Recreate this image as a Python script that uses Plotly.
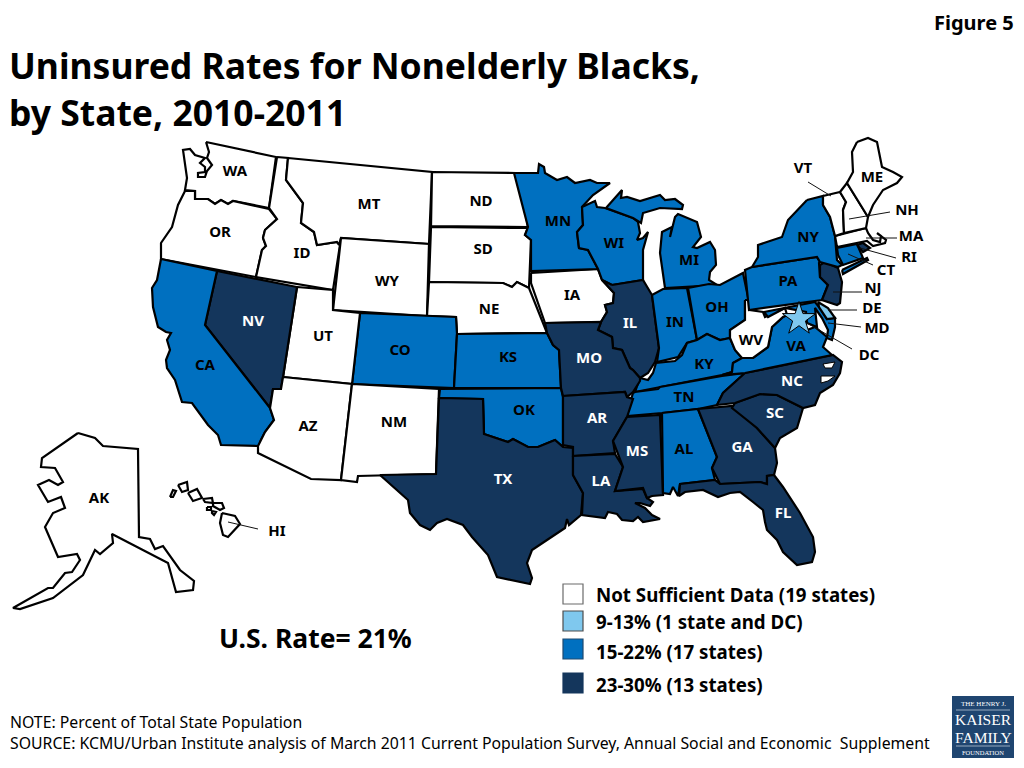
import plotly.graph_objects as go

BANDS = ["Not Sufficient Data (19 states)", "9-13% (1 state and DC)", "15-22% (17 states)", "23-30% (13 states)"]
BAND_COLORS = ["#ffffff", "#7fc8ee", "#0070c0", "#14365c"]
BAND_EDGES = ["#6b6b6b", "#4d4d4d", "#1f4a70", "#14365c"]
NO_DATA = ["WA","OR","ID","MT","WY","ND","SD","NE","IA","UT","AZ","NM","WV","VT","NH","ME","MA","AK","HI"]
BAND_LOW = ["DE"]
BAND_MID = ["CA","CO","KS","OK","MN","WI","MI","IN","OH","KY","TN","AL","VA","MD","PA","NY","CT"]
BAND_HIGH = ["NV","TX","MO","AR","LA","IL","MS","GA","FL","SC","NC","NJ","RI"]

# State outlines (map units = reference pixels)
OUTLINES = {
"WA":[(206,142),(276,157),(269,208),(233,201),(228,204),(221,200),(215,204),(208,199),(195,199),(195,191),(185,190),(187,178),(183,150),(190,149),(195,155),(205,158),(200,163),(205,167),(205,172),(198,173),(198,177),(205,177),(207,171),(212,165),(207,158),(209,152)],
"OR":[(185,191),(195,191),(195,199),(208,199),(215,204),(221,200),(228,204),(233,201),(269,209),(277,219),(265,230),(263,238),(266,246),(262,250),(256,277),(161,259),(161,243),(172,227),(178,205)],
"ID":[(277,157),(288,158),(286,180),(303,203),(301,223),(314,232),(317,245),(337,242),(340,245),(333,290),(256,277),(262,250),(266,246),(263,238),(265,230),(277,219),(269,208)],
"MT":[(288,158),(432,172),(429,244),(341,238),(339,245),(337,242),(317,245),(314,232),(301,223),(303,203),(286,180)],
"WY":[(341,238),(429,244),(427,316),(333,310)],
"ND":[(432,172),(515,173),(523,198),(528,227),(431,226)],
"SD":[(431,227),(528,228),(525,235),(531,240),(529,288),(517,282),(512,287),(503,283),(429,282)],
"NE":[(429,282),(503,283),(512,287),(517,282),(529,288),(547,333),(457,334),(456,317),(427,316)],
"CO":[(360,313),(456,317),(457,334),(454,388),(352,384)],
"UT":[(297,287),(333,290),(333,310),(360,313),(352,384),(283,377)],
"NV":[(217,271),(297,287),(283,377),(281,389),(273,389),(270,408),(205,325)],
"CA":[(161,259),(217,271),(205,325),(270,408),(274,420),(265,432),(261,440),(259,446),(221,445),(218,435),(208,425),(195,408),(192,403),(182,402),(175,380),(167,368),(166,360),(170,350),(167,340),(171,333),(166,332),(158,327),(153,307),(152,288),(157,280)],
"AZ":[(283,377),(352,384),(341,480),(311,479),(258,453),(258,446),(261,440),(265,432),(274,420),(270,408),(273,389),(281,389)],
"NM":[(352,384),(439,389),(436,474),(380,475),(358,476),(357,482),(341,480)],
"KS":[(457,334),(547,333),(553,345),(559,350),(561,388),(454,388)],
"OK":[(440,389),(561,388),(563,397),(563,447),(555,440),(538,447),(528,447),(513,439),(508,442),(484,434),(483,399),(439,398)],
"TX":[(439,398),(483,399),(484,434),(508,442),(513,439),(528,447),(538,447),(555,440),(563,447),(573,448),(573,475),(583,493),(581,515),(569,525),(567,519),(565,528),(547,540),(532,550),(527,563),(532,578),(530,584),(497,577),(488,555),(472,537),(463,525),(447,519),(437,523),(430,530),(420,525),(410,513),(408,500),(380,475),(436,474)],
"IA":[(531,273),(598,269),(602,280),(614,293),(613,303),(605,305),(607,312),(601,322),(545,323),(531,283)],
"MN":[(514,173),(538,173),(539,164),(544,167),(545,173),(557,180),(567,177),(575,183),(590,180),(597,183),(610,183),(593,195),(582,207),(583,225),(577,232),(579,248),(588,250),(598,269),(531,271),(531,240),(525,235),(528,227)],
"WI":[(582,207),(586,205),(595,201),(597,207),(605,208),(633,218),(638,222),(640,233),(637,240),(643,238),(648,232),(643,250),(643,280),(612,285),(602,280),(598,269),(588,250),(579,248),(577,232),(583,225)],
"MI":[(606,208),(622,190),(621,198),(627,197),(640,201),(660,195),(665,200),(675,199),(683,205),(682,209),(660,208),(643,213),(641,223),(633,218),None,(665,288),(660,253),(662,232),(672,227),(670,237),(675,217),(678,214),(697,222),(701,237),(693,247),(697,248),(710,242),(715,250),(716,265),(710,272),(709,280),(717,285)],
"IL":[(612,285),(643,280),(652,295),(659,348),(655,362),(648,373),(640,378),(633,370),(630,368),(622,350),(613,348),(612,337),(598,330),(601,322),(607,312),(605,305),(613,303),(614,293),(602,280)],
"IN":[(652,295),(663,289),(687,288),(697,340),(687,343),(678,357),(657,362),(659,348)],
"OH":[(688,288),(709,284),(720,285),(743,273),(749,302),(745,302),(745,320),(730,330),(730,338),(720,340),(707,334),(697,340)],
"KY":[(635,392),(640,378),(648,380),(653,373),(656,363),(675,361),(682,355),(687,343),(697,340),(707,334),(720,340),(730,338),(735,350),(742,358),(733,363),(732,372),(722,375),(658,387)],
"TN":[(635,392),(658,389),(660,387),(722,376),(745,373),(735,382),(723,393),(717,405),(698,409),(662,413),(627,416),(630,403),(633,393)],
"MO":[(545,323),(601,322),(598,330),(612,337),(613,348),(622,350),(630,368),(633,370),(640,378),(640,381),(633,392),(627,397),(625,392),(563,396),(561,388),(559,350),(553,345),(547,333)],
"AR":[(563,396),(625,392),(627,397),(633,399),(627,417),(613,441),(615,453),(573,456),(573,447),(563,445)],
"LA":[(573,456),(615,454),(623,467),(615,491),(643,489),(647,498),(653,502),(650,506),(640,503),(635,503),(645,508),(652,515),(660,519),(643,522),(638,517),(633,521),(622,520),(617,514),(608,512),(605,518),(582,515),(583,493),(573,475)],
"MS":[(627,417),(660,415),(663,495),(652,496),(647,498),(643,488),(615,491),(623,467),(613,441)],
"AL":[(662,413),(698,409),(717,457),(712,468),(715,480),(680,484),(678,496),(673,487),(670,494),(663,493)],
"GA":[(698,409),(732,406),(757,428),(775,448),(777,463),(774,475),(767,476),(767,484),(760,482),(720,484),(712,468),(717,457)],
"FL":[(680,484),(715,480),(720,484),(760,482),(767,484),(767,476),(774,475),(783,487),(800,513),(813,537),(815,552),(812,562),(797,565),(783,552),(777,540),(767,530),(765,522),(763,510),(753,502),(740,492),(730,493),(718,497),(703,490),(685,492),(679,496)],
"SC":[(735,403),(760,394),(777,395),(803,408),(797,428),(780,438),(775,448),(757,428),(732,408)],
"NC":[(745,373),(833,355),(842,362),(840,373),(833,385),(820,393),(815,405),(803,408),(777,395),(760,394),(735,403),(717,405),(723,393),(735,382)],
"VA":[(722,375),(732,372),(733,363),(742,358),(753,358),(768,347),(772,327),(783,317),(787,315),(800,325),(807,330),(815,327),(827,337),(823,347),(832,355),(745,373)],
"WV":[(745,300),(749,300),(750,310),(763,312),(765,317),(785,308),(787,315),(783,317),(772,327),(768,347),(753,358),(742,358),(735,350),(730,338),(730,330),(745,320)],
"MD":[(764,312),(815,302),(819,307),(827,319),(835,318),(835,327),(832,340),(827,338),(828,330),(822,318),(815,308),(817,327),(807,323),(806,312),(785,308),(768,317)],
"DE":[(818,302),(828,308),(835,318),(827,319),(819,307)],
"PA":[(752,267),(817,257),(820,262),(819,263),(820,277),(828,285),(822,300),(749,310),(745,270)],
"NJ":[(820,265),(825,262),(838,268),(842,282),(840,303),(837,305),(822,300),(828,285),(820,277)],
"NY":[(807,200),(823,196),(823,205),(830,217),(835,236),(837,260),(842,265),(838,267),(820,262),(817,257),(752,267),(758,257),(758,245),(782,237),(788,220),None,(842,270),(867,258),(868,260),(843,274)],
"CT":[(837,248),(857,244),(863,258),(843,265),(838,255)],
"RI":[(857,245),(863,243),(870,248),(863,252)],
"MA":[(835,236),(866,228),(868,233),(873,240),(880,242),(881,236),(877,233),(886,240),(885,243),(873,246),(867,241),(837,247)],
"VT":[(823,196),(840,192),(846,202),(843,210),(844,233),(835,236),(830,217),(823,205)],
"NH":[(840,192),(847,183),(868,217),(866,228),(844,233),(843,210),(846,202)],
"ME":[(857,142),(868,138),(877,142),(882,167),(893,172),(902,177),(897,183),(883,190),(873,205),(868,217),(847,183),(853,172),(852,152)],
"AK":[(78,433),(95,438),(103,446),(138,449),(139,537),(150,539),(155,549),(163,546),(180,570),(194,581),(193,590),(176,592),(168,563),(112,534),(113,543),(100,554),(95,550),(83,575),(53,598),(20,609),(13,608),(48,588),(53,588),(65,573),(72,572),(80,560),(77,554),(58,557),(45,527),(53,513),(65,508),(61,497),(48,502),(38,485),(49,480),(58,485),(63,482),(55,468),(41,467),(42,458)],
"HI":[(222,513),(235,516),(240,524),(233,532),(228,537),(223,535),(220,523),None,(213,503),(222,503),(224,508),(220,510),(213,506),None,(203,499),(212,498),(213,503),(205,502),None,(188,493),(197,489),(202,498),(193,501),None,(178,485),(187,482),(188,490),(182,492),None,(170,497),(173,490),(176,491),(173,497),None,(207,507),(211,507),(211,510),(207,510),None,(212,511),(216,512),(214,515),(212,513)],
}
SOUNDS = [[(823,364),(835,362),(832,368),(825,368)], [(821,376),(835,376),(828,381),(821,383)]]

# In-state labels
LABELS_DARK_TEXT = {"WA":(235,172),"OR":(220,233),"CA":(205,366),"ID":(302,254),"MT":(369,205),"WY":(387,282),"UT":(323,337),"CO":(400,351),"AZ":(308,427),"NM":(394,423),"ND":(481,202),"SD":(483,250),"NE":(489,310),"KS":(508,358),"OK":(524,411),"IA":(572,296),"AL":(684,450),"IN":(675,323),"OH":(717,308),"MI":(689,261),"WI":(614,244),"MN":(558,222),"NY":(808,238),"PA":(788,282),"KY":(704,365),"TN":(684,398),"VA":(796,347),"WV":(751,341),"AK":(99,499),"ME":(872,178)}
LABELS_LIGHT_TEXT = {"NV":(253,322),"TX":(503,480),"MO":(589,359),"AR":(597,419),"LA":(601,482),"MS":(637,452),"IL":(630,324),"NC":(792,382),"SC":(775,414),"GA":(742,448),"FL":(783,514)}
# Labels outside the state, with their leader lines
CALLOUTS = {"VT":(803,169),"NH":(907,211),"MA":(911,237),"RI":(909,258),"CT":(886,271),"NJ":(873,289.5),"DE":(872,309),"MD":(877,329.5),"DC":(869,356),"HI":(277,532)}
LEADERS = [[(808,182),(831,196)],[(890,212),(849,219)],[(897,238),(866,238)],[(896,258),(860,248)],[(873,265),(848,254)],[(862,292),(833,292)],[(857,310),(828,310)],[(861,327),(828,323)],[(852,349),(807,323)],[(258,529),(228,522)]]
DC_POINT = (799,319)

TITLE_LINES = ["Uninsured Rates for Nonelderly Blacks,", "by State, 2010-2011"]
US_RATE = "U.S. Rate= 21%"
FIGURE_TAG = "Figure 5"
NOTE = "NOTE: Percent of Total State Population"
SOURCE = "SOURCE: KCMU/Urban Institute analysis of March 2011 Current Population Survey, Annual Social and Economic \u00a0Supplement"
LEGEND_Y = [594, 621, 649, 683]
LEGEND_TEXT_Y = [594, 621, 651, 684]

FONT = "Noto Sans"
color_of = {}
for i, group in enumerate([NO_DATA, BAND_LOW, BAND_MID, BAND_HIGH]):
    for st in group:
        color_of[st] = BAND_COLORS[i]

def split_xy(points):
    xs, ys, first = [], [], None
    for p in points:
        if p is None:
            xs.append(first[0]); ys.append(first[1]); xs.append(None); ys.append(None); first = None
        else:
            if first is None:
                first = p
            xs.append(p[0]); ys.append(p[1])
    xs.append(first[0]); ys.append(first[1])
    return xs, ys

fig = go.Figure()
for st, pts in OUTLINES.items():
    xs, ys = split_xy(pts)
    fig.add_trace(go.Scatter(x=xs, y=ys, name=st, mode="lines", fill="toself", fillcolor=color_of[st],
                             line=dict(color="#000000", width=2.2), hoverinfo="name"))
for pts in SOUNDS:
    xs, ys = split_xy(pts)
    fig.add_trace(go.Scatter(x=xs, y=ys, mode="lines", fill="toself", fillcolor="#ffffff",
                             line=dict(color="#000000", width=1), hoverinfo="skip"))
for seg in LEADERS:
    fig.add_trace(go.Scatter(x=[seg[0][0], seg[1][0]], y=[seg[0][1], seg[1][1]], mode="lines",
                             line=dict(color="#111111", width=1), hoverinfo="skip"))
fig.add_trace(go.Scatter(x=[DC_POINT[0]], y=[DC_POINT[1]], mode="markers", name="DC", hoverinfo="name",
                         marker=dict(symbol="star", size=25, color=BAND_COLORS[1], line=dict(color="#000000", width=1))))
for labels, col in [(LABELS_DARK_TEXT, "#000000"), (CALLOUTS, "#000000"), (LABELS_LIGHT_TEXT, "#ffffff")]:
    fig.add_trace(go.Scatter(x=[v[0] for v in labels.values()], y=[v[1] for v in labels.values()],
                             text=list(labels.keys()), mode="text", hoverinfo="skip",
                             textfont=dict(family=FONT, size=15, color=col, weight="bold")))
fig.add_trace(go.Scatter(x=[573]*4, y=LEGEND_Y, mode="markers", hoverinfo="skip",
                         marker=dict(symbol="square", size=20, color=BAND_COLORS, line=dict(color=BAND_EDGES, width=1.2))))

ann = []
def text(x, y, s, size, anchor="left", color="#000000", bold=True, family=FONT):
    ann.append(dict(x=x, y=y, xref="x", yref="y", text=f"<b>{s}</b>" if bold else s, showarrow=False, xanchor=anchor,
                    yanchor="middle", align=anchor, font=dict(family=family, size=size, color=color)))
text(7, 65, TITLE_LINES[0], 35.5)
text(7, 112, TITLE_LINES[1], 35.5)
text(1016, 22, FIGURE_TAG, 20, anchor="right")
text(217, 638, US_RATE, 26.5)
for label, y in zip(BANDS, LEGEND_TEXT_Y):
    text(594, y, label, 18.7)
text(8, 722, NOTE, 15.8, bold=False)
text(8, 743, SOURCE, 15.8, bold=False)

# Foundation logo
LOGO_BOX = (952, 696, 1014, 758)
text(983, 704, "THE HENRY J.", 7, anchor="center", color="#ffffff", bold=False, family="Liberation Serif")
text(983, 719.5, "KAISER", 15.5, anchor="center", color="#ffffff", bold=False, family="Liberation Serif")
text(983, 737, "FAMILY", 15.5, anchor="center", color="#ffffff", bold=False, family="Liberation Serif")
text(983, 752, "FOUNDATION", 6.5, anchor="center", color="#ffffff", bold=False, family="Liberation Serif")

fig.update_layout(
    width=1024, height=768, margin=dict(l=0, r=0, t=0, b=0), showlegend=False,
    paper_bgcolor="#ffffff", plot_bgcolor="#ffffff",
    xaxis=dict(range=[0, 1024], visible=False, fixedrange=True),
    yaxis=dict(range=[768, 0], visible=False, fixedrange=True),
    annotations=ann,
    shapes=[dict(type="rect", x0=LOGO_BOX[0], y0=LOGO_BOX[1], x1=LOGO_BOX[2], y1=LOGO_BOX[3], xref="x", yref="y",
                 fillcolor="#1f4570", line=dict(width=0), layer="below"),
            dict(type="line", x0=956, x1=1010, y0=710, y1=710, xref="x", yref="y", line=dict(color="#c9d3de", width=0.7)),
            dict(type="line", x0=956, x1=1010, y0=746, y1=746, xref="x", yref="y", line=dict(color="#c9d3de", width=0.7))],
)
fig.write_html("out.html", config={"displayModeBar": False}, post_script="document.body.style.margin='0';")
